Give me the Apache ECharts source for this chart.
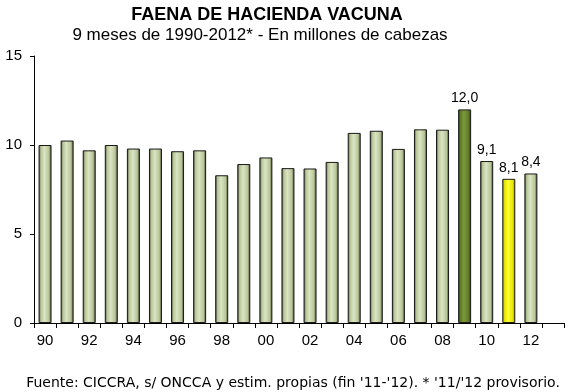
<!DOCTYPE html>
<html><head><meta charset="utf-8">
<script src="https://cdn.jsdelivr.net/npm/echarts@6/dist/echarts.min.js"></script>
<style>html,body{margin:0;padding:0;background:#fff}#c{width:566px;height:392px}</style>
</head><body><div id="c"></div>
<script>
var categories = ["90","91","92","93","94","95","96","97","98","99","00","01","02","03","04","05","06","07","08","09","10","11","12",""];
var values = [10.0,10.25,9.7,10.0,9.8,9.8,9.65,9.7,8.3,8.93,9.3,8.7,8.68,9.05,10.68,10.8,9.78,10.88,10.86,12.0,9.1,8.1,8.4,null];
var valueLabels = ["","","","","","","","","","","","","","","","","","","","12,0","9,1","8,1","8,4",""];
var yTicks = [0,5,10,15];

function grad(edge, mid, light) {
  return new echarts.graphic.LinearGradient(0,0,1,0,[
    {offset:0,color:edge},{offset:0.18,color:mid},{offset:0.45,color:light},{offset:0.8,color:mid},{offset:1,color:edge}]);
}
var normal = grad('#3f4432','#b8c596','#dbe5c4');
var dark = grad('#2e3a12','#5f7a26','#7c9a3c');
var yellow = grad('#8a8a00','#e6e600','#ffff33');

var data = values.map(function(v,i){
  var c = normal;
  if (i === 19) c = dark;
  if (i === 21) c = yellow;
  return {value:v, itemStyle:{color:c}, label:{show: valueLabels[i] !== "", formatter: valueLabels[i]}};
});

var chart = echarts.init(document.getElementById('c'));
chart.setOption({
  animation:false,
  textStyle:{fontFamily:'Liberation Sans, Arial, sans-serif'},
  title:[
    {text:'FAENA DE HACIENDA VACUNA', left:262, top:1, textAlign:'center',
     textStyle:{fontSize:18,fontWeight:'bold',color:'#000',fontFamily:'Liberation Sans'}},
    {text:'9 meses de 1990-2012* - En millones de cabezas', left:255, top:22, textAlign:'center',
     textStyle:{fontSize:17,fontWeight:'normal',color:'#000',fontFamily:'Liberation Sans'}},
    {text:"Fuente: CICCRA, s/ ONCCA y estim. propias (fin '11-'12). * '11/'12 provisorio.", left:288, top:371, textAlign:'center',
     textStyle:{fontSize:14,fontWeight:'normal',color:'#000',fontFamily:'DejaVu Sans'}}
  ],
  grid:{left:34,right:2,top:56,bottom:69,containLabel:false},
  xAxis:{type:'category',data:categories,
    axisLine:{lineStyle:{color:'#000',width:1}},
    axisTick:{show:true,length:5,interval:0,lineStyle:{color:'#000'}},
    axisLabel:{interval:1,color:'#000',fontSize:15,margin:10,fontFamily:'Liberation Sans'}},
  yAxis:{type:'value',min:0,max:15,interval:5,
    axisLine:{show:true,lineStyle:{color:'#000'}},
    axisTick:{show:true,length:4,lineStyle:{color:'#000'}},
    splitLine:{show:false},
    axisLabel:{color:'#000',fontSize:15,margin:12,fontFamily:'Liberation Sans',
      formatter:function(v){return yTicks.indexOf(v)>=0?String(v):'';}}},
  series:[{type:'bar',data:data,barWidth:13,
    itemStyle:{borderColor:'#1a1a1a',borderWidth:1},
    label:{position:'top',color:'#000',fontSize:14,distance:4,fontFamily:'Liberation Sans'}}]
});
</script></body></html>
